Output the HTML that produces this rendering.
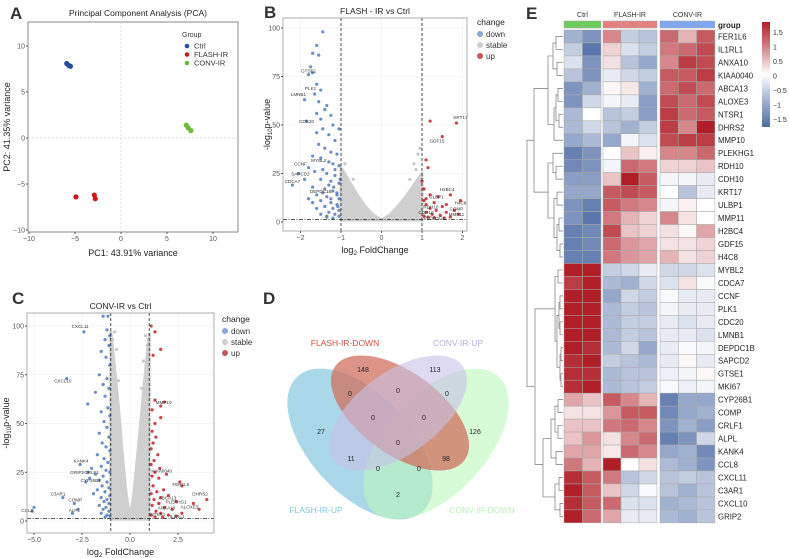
<!DOCTYPE html>
<html><head><meta charset="utf-8">
<style>
body{margin:0;background:#fff;}
svg{display:block;font-family:"Liberation Sans",Arial,sans-serif;}
</style></head>
<body>
<svg id="fig" width="789" height="558" viewBox="0 0 789 558" xmlns="http://www.w3.org/2000/svg">
<g id="pA"></g>
<g id="pB"></g>
<g id="pC"></g>
<g id="pD"></g>
<g id="pE"></g>
</svg>
<script>
// ---------- PCA data ----------
const pcaGroups = ["Ctrl","FLASH-IR","CONV-IR"];
const pcaColors = ["#274c9a","#d01818","#6ab83e"];
const pcaX = [[-5.9,-5.7,-5.5],[-4.9,-2.9,-2.8],[7.1,7.3,7.6]];
const pcaY = [[8.1,7.9,7.8],[-6.4,-6.2,-6.6],[1.4,1.1,0.8]];
const pcaTicks = [-10,-5,0,5,10];

// ---------- Volcano B data ----------
const bDownX = [-1.45,-1.6,-1.7,-1.55,-1.75,-1.8,-1.7,-1.6,-1.5,-1.65,-1.9,-1.55,-1.35,-1.4,-1.6,-1.25,-1.5,-1.2,-1.85,-1.45,-1.05,-1.6,-1.3,-1.15,-1.55,-1.4,-1.25,-1.1,-1.7,-1.5,-1.3,-1.2,-1.05,-1.8,-1.45,-1.65,-1.35,-1.15,-2.05,-1.9,-1.5,-1.25,-1.05,-2.2,-1.7,-1.4,-1.2,-1.1,-1.6,-1.35,-1.05,-1.8,-1.5,-1.25,-1.1,-1.4,-1.2,-1.05,-1.6,-1.3,-1.15,-1.05,-1.5,-1.35,-1.2,-1.1,-1.3,-1.02,-1.45,-1.7,-1.15,-1.25,-1.08,-1.35,-1.18];
const bDownY = [98,91,87,86,80,76,77,71,68,66,63,62,60,58,56,55,53,50,52,48,48,46,45,42,40,38,36,35,34,33,31,30,29,28,27,26,25,24,25,22,22,21,20,19,18,17,16,15,14,13,12,12,11,10,9,8,7,6,7,5,4,3,4,2.5,2,14,19,22,15,10,27,12,8,3,18];
const bUpX = [1.2,1.85,1.5,1.1,1.15,1.0,1.05,1.7,1.4,1.1,1.2,1.05,1.3,1.95,1.6,1.5,1.1,1.2,1.35,1.8,1.6,1.1,1.25,1.45,1.9,1.05,1.15,1.3,1.7,1.55];
const bUpY = [52,51,44,32,28,21,17,14,13,12,14,11,10,11,9,8,9,7,6,6,5,5,4,3.5,4,3,2.5,2.2,2.5,2];
const bStableEnvX = [-1,-0.8,-0.6,-0.4,-0.2,0,0.2,0.4,0.6,0.8,1];
const bStableEnvY = [28,21,14,8,3.5,1.2,3.5,8,13,19,25];
const bStableX = [0.95,0.8,0.9,-0.9,-0.7,0.7,-0.95,0.85];
const bStableY = [38,30,35,30,22,22,26,27];
const bLabels = ["GTSE1","PLK1","LMNB1","CDC20","CCNF","MYBL2","SAPCD2","CDCA7","DEPDC1B","KRT17","GDF15","H2BC4","ULBP1","H4C8","RDH10","COMP","CDH10","MMP11","PLEKHG1"];
const bLabX = [-1.8,-1.75,-2.05,-1.85,-2.0,-1.55,-2.0,-2.2,-1.5,1.95,1.37,1.62,1.36,1.95,1.22,1.85,1.1,1.85,1.3];
const bLabY = [77,68,65,51,29,31,24,20,15,53,41,16,12,9,7,6,4,3,1.2];

// ---------- Volcano C data ----------
const cDownX = [-2.4,-3.3,-1.15,-1.4,-1.2,-1.05,-1.3,-1.1,-1.5,-1.25,-1.05,-1.6,-1.2,-1.4,-1.1,-1.8,-1.3,-2.2,-1.15,-1.5,-1.05,-1.35,-1.2,-1.6,-1.1,-1.45,-1.25,-1.05,-1.7,-1.35,-1.15,-2.6,-1.5,-2.0,-1.25,-1.05,-2.2,-1.8,-1.4,-2.1,-1.6,-2.3,-1.2,-1.45,-1.1,-1.7,-1.3,-1.9,-1.05,-3.5,-1.5,-1.2,-1.35,-1.1,-2.9,-1.6,-1.25,-2.7,-5.0,-1.4,-1.1,-3.0,-5.1,-1.5,-1.2,-1.05,-1.3];
const cDownY = [97,73,105,105,98,95,93,90,87,84,80,75,73,70,68,66,64,60,58,56,54,51,48,45,43,40,38,36,34,32,30,29,28,27,26,25,25,24,23,22,21,20,20,18,17,16,15,14,13,12,12,11,10,9,9,8,7,6,7,6,5,4,5,4,3,2.5,2];
const cUpX = [1.1,1.3,1.6,1.2,1.3,1.8,1.6,1.15,1.6,1.3,1.15,1.35,1.2,1.1,1.45,1.25,1.1,1.55,1.3,1.9,1.15,1.5,2.6,2.7,1.2,1.75,1.4,1.1,2.0,1.6,1.25,2.4,4.0,3.3,1.5,1.15,1.8,2.2,3.6,2.7,1.35,1.6,2.0,1.1,1.3,2.4,1.7];
const cUpY = [100,97,88,85,62,61,59,57,53,50,46,43,40,37,34,31,29,27,25,24,23,22,20,18,18,16,15,14,13,12,11,10,11,9,9,8,7,6,6,4,5,4,3,3,2,2.5,2];
const cStableEnvX = [-1,-0.8,-0.6,-0.4,-0.2,0,0.2,0.4,0.6,0.8,1];
const cStableEnvY = [97,78,58,34,14,1,14,34,55,76,96];
const cStableX = [-0.8,-0.9,-0.7,0.8,0.9,0.7,-0.6,0.6];
const cStableY = [97,93,88,95,90,82,72,68];
const cLabels = ["CXCL11","CXCL10","MMP10","KANK4","GRIP2","CRLF1","CYP26B1","C3AR1","COMP","ALPL","CCL8","KIAA0040","FER1L6","DHRS2","ABCA13","PLEKHG1","ALOXE3","ANXA10","NTSR1","IL1RL1"];
const cLabX = [-2.6,-3.5,1.75,-2.55,-2.75,-2.0,-2.05,-3.75,-2.85,-2.9,-5.35,1.65,2.65,3.65,1.95,2.4,3.1,1.9,1.45,2.45];
const cLabY = [99,71,60,30,24,24,20,13,10,4.5,4.5,25,18,13,11,9,6.5,6,2.5,1.5];

// ---------- Venn data ----------
const vennSets = ["FLASH-IR-DOWN","CONV-IR-UP","FLASH-IR-UP","CONV-IR-DOWN"];
const vennCounts = ["148","113","0","0","0","0","0","27","126","0","11","98","0","0","2"];

// ---------- Heatmap data ----------
const hmGenes = ["FER1L6","IL1RL1","ANXA10","KIAA0040","ABCA13","ALOXE3","NTSR1","DHRS2","MMP10","PLEKHG1","RDH10","CDH10","KRT17","ULBP1","MMP11","H2BC4","GDF15","H4C8","MYBL2","CDCA7","CCNF","PLK1","CDC20","LMNB1","DEPDC1B","SAPCD2","GTSE1","MKI67","CYP26B1","COMP","CRLF1","ALPL","KANK4","CCL8","CXCL11","C3AR1","CXCL10","GRIP2"];
const hmCtrl = [[-0.8,-1.1],[-0.5,-1.4],[-0.3,-1.1],[-0.6,-1.1],[-1.1,-0.8],[-1.1,-0.4],[-0.7,0.0],[-0.7,-0.4],[-0.9,-0.7],[-1.3,-1.1],[-1.2,-1.1],[-1.0,-1.0],[-0.9,-0.9],[-1.1,-1.3],[-1.1,-1.4],[-1.3,-1.2],[-1.3,-1.2],[-1.3,-1.3],[1.5,1.5],[1.3,1.5],[1.5,1.5],[1.5,1.5],[1.5,1.5],[1.5,1.5],[1.5,1.4],[1.4,1.5],[1.4,1.4],[1.4,1.5],[0.6,0.4],[0.2,0.2],[0.4,0.4],[0.4,0.7],[0.6,0.6],[0.9,0.5],[1.4,1.1],[1.5,1.1],[1.4,1.1],[1.5,1.0]];
const hmFlash = [[0.8,-0.5,-0.6],[0.3,-0.3,-0.5],[0.2,-0.6,-0.9],[-0.2,-0.4,-0.5],[0.05,0.15,-0.8],[-0.1,-0.2,-1.0],[-0.6,-0.5,-1.0],[-0.6,-0.8,-0.5],[-0.9,-0.1,-0.3],[0.0,0.4,0.1],[-0.1,1.0,0.9],[0.4,1.5,1.1],[1.1,1.2,1.1],[1.1,0.9,0.8],[0.9,0.5,0.3],[1.2,0.4,0.3],[1.0,0.7,0.6],[0.9,0.7,0.6],[-0.5,-0.4,-0.2],[-0.7,-0.8,-0.4],[-0.9,-0.4,-0.5],[-0.7,-0.5,-0.6],[-0.7,-0.5,-0.5],[-0.7,-0.5,-0.6],[-0.7,-0.4,-0.9],[-0.5,-0.6,-0.7],[-0.7,-0.6,-0.6],[-0.7,-0.6,-0.5],[1.1,0.8,0.5],[0.7,1.1,1.1],[0.9,1.0,0.8],[0.2,0.8,1.0],[0.15,1.0,0.8],[1.5,0.0,0.2],[0.9,-0.6,-0.4],[0.4,-0.4,-0.05],[1.0,-0.3,-0.3],[0.6,-0.2,-0.2]];
const hmConv = [[1.0,0.5,1.1],[0.9,1.0,1.2],[0.8,1.3,1.2],[1.1,1.1,1.3],[1.0,1.2,1.0],[1.2,1.0,1.2],[1.3,1.0,1.1],[1.3,0.8,1.5],[1.2,1.3,1.3],[0.8,0.8,1.0],[0.3,0.3,0.4],[-0.1,-0.1,-0.2],[0.0,-0.6,-0.2],[-0.1,0.1,0.0],[0.8,0.2,0.0],[0.2,0.05,0.6],[0.2,0.2,0.3],[0.5,0.2,0.3],[-0.4,-0.4,-0.3],[-0.3,0.2,-0.05],[-0.05,-0.2,-0.2],[-0.1,-0.2,-0.2],[-0.2,-0.3,-0.2],[-0.2,-0.2,-0.3],[-0.2,-0.05,-0.1],[-0.2,0.05,-0.2],[-0.15,-0.1,0.05],[-0.05,-0.15,-0.1],[-1.3,-0.9,-0.9],[-1.2,-0.9,-0.8],[-1.1,-0.8,-1.0],[-1.3,-1.1,-0.4],[-0.9,-0.8,-1.2],[-0.7,-0.8,-1.1],[-0.6,-0.5,-0.6],[-0.6,-0.8,-0.6],[-0.8,-0.7,-0.6],[-0.7,-0.8,-0.6]];
const hmLegendTicks = [1.5,1,0.5,0,-0.5,-1,-1.5];

const NS="http://www.w3.org/2000/svg";
function mk(parent,tag,attrs,text){const e=document.createElementNS(NS,tag);for(const k in attrs)e.setAttribute(k,attrs[k]);if(text!==undefined)e.textContent=text;parent.appendChild(e);return e;}
function lin(d0,d1,r0,r1){return v=>r0+(v-d0)*(r1-r0)/(d1-d0);}

// ---------- Panel A ----------
(function(){
const g=document.getElementById('pA');
const sx=lin(-10,10,29,213), sy=lin(10,-10,46,230);
let t=mk(g,'text',{x:10,y:19,'font-size':17,'font-weight':'bold',fill:'#333'},'A');

t=mk(g,'text',{x:138,y:16,'font-size':8.5,'text-anchor':'middle',fill:'#222'},'Principal Component Analysis (PCA)');

let r=mk(g,'rect',{x:28,y:22,width:210,height:210,fill:'none',stroke:'#888','stroke-width':1});

let l=mk(g,'line',{x1:sx(0),x2:sx(0),y1:22,y2:232,stroke:'#ddd','stroke-dasharray':'2,2'});

l=mk(g,'line',{x1:28,x2:238,y1:sy(0),y2:sy(0),stroke:'#ddd','stroke-dasharray':'2,2'});

pcaTicks.forEach(v=>{
 let a=mk(g,'text',{x:sx(v),y:241,'font-size':7,'text-anchor':'middle',fill:'#555'},v<0?'−'+(-v):String(v));
 
 a=mk(g,'text',{x:25,y:sy(v)+2.5,'font-size':7,'text-anchor':'end',fill:'#555'},v<0?'−'+(-v):String(v));
 
 mk(g,'line',{x1:sx(v),x2:sx(v),y1:232,y2:234,stroke:'#555'});
 mk(g,'line',{x1:26,x2:28,y1:sy(v),y2:sy(v),stroke:'#555'});
});
t=mk(g,'text',{x:133,y:256,'font-size':9,'text-anchor':'middle',fill:'#222'},'PC1: 43.91% variance');

t=mk(g,'text',{x:0,y:0,'font-size':9,'text-anchor':'middle',fill:'#222',transform:'translate(10,127) rotate(-90)'},'PC2: 41.35% variance');

pcaGroups.forEach((gr,i)=>{
 pcaX[i].forEach((x,j)=>{
  const c=mk(g,'circle',{cx:sx(x),cy:sy(pcaY[i][j]),r:2.6,fill:pcaColors[i]});
  
  
 });
 const c=mk(g,'circle',{cx:187,cy:46+i*8.5,r:2.3,fill:pcaColors[i]});
 
 const tt=mk(g,'text',{x:194,y:48.5+i*8.5,'font-size':7.5,fill:'#333'},gr);
 
});
t=mk(g,'text',{x:182,y:37,'font-size':7,fill:'#333'},'Group');

})();

// ---------- Volcano builder ----------
function volcano(g,cfg){
 const sx=lin(cfg.xd[0],cfg.xd[1],cfg.xr[0],cfg.xr[1]), sy=lin(0,100,cfg.y0,cfg.y100);
 const P=cfg.box;
 let t=mk(g,'text',{x:cfg.letter[0],y:cfg.letter[1],'font-size':17,'font-weight':'bold',fill:'#333'},cfg.letterText);
 
 t=mk(g,'text',{x:(P[0]+P[2])/2,y:P[1]-4,'font-size':8.5,'text-anchor':'middle',fill:'#222'},cfg.title);
 
 cfg.xticks.forEach(v=>{mk(g,'line',{x1:sx(v),x2:sx(v),y1:P[1],y2:P[3],stroke:'#eee','stroke-width':0.6});});
 cfg.yticks.forEach(v=>{mk(g,'line',{x1:P[0],x2:P[2],y1:sy(v),y2:sy(v),stroke:'#eee','stroke-width':0.6});});
 let pts=cfg.envX.map((x,i)=>sx(x)+','+sy(cfg.envY[i])).join(' ');
 pts+=' '+sx(cfg.envX[cfg.envX.length-1])+','+sy(1)+' '+sx(cfg.envX[0])+','+sy(1);
 let poly=mk(g,'polygon',{points:pts,fill:'#cfcfcf',stroke:'#cfcfcf','stroke-width':3,'stroke-linejoin':'round'});
 
 cfg.stX.forEach((x,i)=>{const c=mk(g,'circle',{cx:sx(x),cy:sy(cfg.stY[i]),r:1.6,fill:'#c9c9c9'});
  });
 cfg.dX.forEach((x,i)=>{const c=mk(g,'circle',{cx:sx(x),cy:sy(cfg.dY[i]),r:1.6,fill:'#5e82bd','fill-opacity':0.9});
  });
 cfg.uX.forEach((x,i)=>{const c=mk(g,'circle',{cx:sx(x),cy:sy(cfg.uY[i]),r:1.6,fill:'#c0303a','fill-opacity':0.9});
  });
 [-1,1].forEach(v=>{const l=mk(g,'line',{x1:sx(v),x2:sx(v),y1:P[1],y2:P[3],stroke:'#222','stroke-width':0.8,'stroke-dasharray':'3,2'});
  });
 let l=mk(g,'line',{x1:P[0],x2:P[2],y1:sy(1.3),y2:sy(1.3),stroke:'#222','stroke-width':0.8,'stroke-dasharray':'4,1.5,1,1.5'});
 
 cfg.labs.forEach((s,i)=>{const a=mk(g,'text',{x:sx(cfg.labX[i]),y:sy(cfg.labY[i]),'font-size':4.6,'text-anchor':'middle',fill:'#333'},s);
  });
 let r=mk(g,'rect',{x:P[0],y:P[1],width:P[2]-P[0],height:P[3]-P[1],fill:'none',stroke:'#999','stroke-width':0.8});
 
 cfg.xticks.forEach(v=>{mk(g,'line',{x1:sx(v),x2:sx(v),y1:P[3],y2:P[3]+2,stroke:'#555'});
  const a=mk(g,'text',{x:sx(v),y:P[3]+9,'font-size':7,'text-anchor':'middle',fill:'#555'},cfg.xfmt(v));
  });
 cfg.yticks.forEach(v=>{mk(g,'line',{x1:P[0]-2,x2:P[0],y1:sy(v),y2:sy(v),stroke:'#555'});
  const a=mk(g,'text',{x:P[0]-3,y:sy(v)+2.5,'font-size':7,'text-anchor':'end',fill:'#555'},String(v));
  });
 t=mk(g,'text',{x:(P[0]+P[2])/2,y:P[3]+22,'font-size':9,'text-anchor':'middle',fill:'#222'});
 t.innerHTML='log<tspan font-size="6.5" dy="2">2</tspan><tspan dy="-2"> FoldChange</tspan>';
 
 t=mk(g,'text',{x:0,y:0,'font-size':9,'text-anchor':'middle',fill:'#222',transform:'translate('+cfg.ylabX+','+((P[1]+P[3])/2)+') rotate(-90)'});
 t.innerHTML='-log<tspan font-size="6" dy="2">10</tspan><tspan dy="-2">p-value</tspan>';
 
 const L=cfg.leg;
 t=mk(g,'text',{x:L[0],y:L[1],'font-size':8.5,fill:'#222'},'change');
 
 [['down','#8aa6d4'],['stable','#cfcfcf'],['up','#c5565e']].forEach((e,i)=>{
  const c=mk(g,'circle',{cx:L[0]+3,cy:L[1]+9+i*11,r:3,fill:e[1]});
  
  const a=mk(g,'text',{x:L[0]+9,y:L[1]+12+i*11,'font-size':8,fill:'#333'},e[0]);
  
 });
}
volcano(document.getElementById('pB'),{xd:[-1,1],xr:[341,422],y0:222,y100:28,box:[283,18,467,231],
 letter:[264,18],letterText:'B',title:'FLASH - IR vs Ctrl',xticks:[-2,-1,0,1,2],yticks:[0,25,50,75,100],
 xfmt:v=>v<0?'−'+(-v):String(v),envX:bStableEnvX,envY:bStableEnvY,stX:bStableX,stY:bStableY,
 dX:bDownX,dY:bDownY,uX:bUpX,uY:bUpY,labs:bLabels,labX:bLabX,labY:bLabY,ylabX:270,leg:[477,25]});
volcano(document.getElementById('pC'),{xd:[-5,2.5],xr:[34,178],y0:521,y100:326,box:[27,313,214,533],
 letter:[12,304],letterText:'C',title:'CONV-IR vs Ctrl',xticks:[-5,-2.5,0,2.5],yticks:[0,25,50,75,100],
 xfmt:v=>(v<0?'−':'')+Math.abs(v).toFixed(1),envX:cStableEnvX,envY:cStableEnvY,stX:cStableX,stY:cStableY,
 dX:cDownX,dY:cDownY,uX:cUpX,uY:cUpY,labs:cLabels,labX:cLabX,labY:cLabY,ylabX:9,leg:[222,322]});

// ---------- Panel D Venn ----------
(function(){
const g=document.getElementById('pD');
let t=mk(g,'text',{x:263,y:304,'font-size':17,'font-weight':'bold',fill:'#333'},'D');

const ell=[
 {cx:360,cy:444,rx:92,ry:50,rot:47,fill:'#7cc3dc',op:0.65,name:'venn-flash-up'},
 {cx:436,cy:444,rx:92,ry:50,rot:-47,fill:'#bdf7bd',op:0.6,name:'venn-conv-down'},
 {cx:400,cy:413,rx:80,ry:41,rot:36,fill:'#d0705f',op:0.75,name:'venn-flash-down'},
 {cx:398,cy:413,rx:80,ry:41,rot:-36,fill:'#c8c2e8',op:0.6,name:'venn-conv-up'}];
ell.forEach(e=>{const el=mk(g,'ellipse',{cx:e.cx,cy:e.cy,rx:e.rx,ry:e.ry,fill:e.fill,'fill-opacity':e.op,transform:'rotate('+e.rot+' '+e.cx+' '+e.cy+')'});
 });
const setPos=[[345,346,'#d4523e'],[458,346,'#b5aedb'],[316,513,'#7ec6df'],[482,513,'#b9f3b9']];
vennSets.forEach((s,i)=>{const a=mk(g,'text',{x:setPos[i][0],y:setPos[i][1],'font-size':8.5,'text-anchor':'middle',fill:setPos[i][2]},s);
 });
const cp=[[363,372],[435,372],[350,396],[398,393],[447,396],[373,420],[424,420],[321,434],[475,434],[398,445],[351,461],[446,461],[378,471],[419,471],[398,497]];
vennCounts.forEach((c,i)=>{const a=mk(g,'text',{x:cp[i][0],y:cp[i][1],'font-size':7,'text-anchor':'middle',fill:'#222'},c);
 });
})();

// ---------- Panel E Heatmap ----------
(function(){
const g=document.getElementById('pE');
let t=mk(g,'text',{x:526,y:19,'font-size':17,'font-weight':'bold',fill:'#333'},'E');

function col(v){v=Math.max(-1.5,Math.min(1.5,v));const f=Math.abs(v)/1.5;
 const end=v>=0?[176,30,40]:[79,108,166];
 const c=[255,255,255].map((w,i)=>Math.round(w+(end[i]-w)*f));return 'rgb('+c.join(',')+')';}
const top=30,rh=12.97;
const groups=[{x:564,cw:18.5,n:2,data:hmCtrl,name:'Ctrl',bar:'#6ccc5a'},{x:603,cw:18,n:3,data:hmFlash,name:'FLASH-IR',bar:'#e58080'},{x:660,cw:18.3,n:3,data:hmConv,name:'CONV-IR',bar:'#7fa6ef'}];
groups.forEach(G=>{
 const w=G.n*G.cw;
 let a=mk(g,'text',{x:G.x+w/2,y:17,'font-size':7,'text-anchor':'middle',fill:'#333'},G.name);
 
 hmGenes.forEach((gene,r)=>{
  G.data[r].forEach((v,c)=>{
   const rc=mk(g,'rect',{x:G.x+c*G.cw,y:top+r*rh,width:G.cw,height:rh,fill:col(v),stroke:'#a8a8a8','stroke-width':0.5});
   
  });
 });
 for(let c=0;c<G.n;c++){const b=mk(g,'rect',{x:G.x+c*G.cw,y:21,width:G.cw,height:7,fill:G.bar,stroke:'#a8a8a8','stroke-width':0.5});
  }
});
hmGenes.forEach((gene,r)=>{const a=mk(g,'text',{x:718,y:top+r*rh+rh/2+3,'font-size':7.8,fill:'#222'},gene);
 });
t=mk(g,'text',{x:718,y:28,'font-size':8,'font-weight':'bold',fill:'#222'},'group');

const ly=lin(1.5,-1.5,32,119);
const defs=mk(g,'defs',{});const lg=mk(defs,'linearGradient',{id:'hg',x1:0,y1:0,x2:0,y2:1});
[1.6,0.8,0,-0.8,-1.6].forEach((v,i)=>mk(lg,'stop',{offset:(i*25)+'%','stop-color':col(v)}));
let rb=mk(g,'rect',{x:762,y:22,width:8,height:105,fill:'url(#hg)'});

hmLegendTicks.forEach(v=>{const a=mk(g,'text',{x:773,y:ly(v)+3,'font-size':7,fill:'#333'},v<0?'−'+(-v):String(v));
 });
const yc=i=>top+i*rh+rh/2;
const dg=mk(g,'g',{stroke:'#777','stroke-width':0.7,fill:'none'});

function U(y1,y2,x,xl1,xl2){mk(dg,'path',{d:'M'+xl1+','+y1+'H'+x+'V'+y2+'H'+xl2});}
const L=563;
U(yc(0),yc(1),556,L,L);U(yc(2),yc(3),557,L,L);U(yc(0.5),yc(2.5),553,556,557);
U(yc(4),yc(5),558,L,L);U(yc(6),yc(7),559,L,L);U(yc(4.5),yc(6.5),556,558,559);U(yc(8),yc(5.5),554,L,556);
U(yc(1.5),yc(6.8),548,553,554);
U(yc(10),yc(11),556,L,L);U(yc(12),yc(13),557,L,L);U(yc(14),yc(15),559,L,L);U(yc(16),yc(17),560,L,L);
U(yc(14.5),yc(16.5),557,559,560);U(yc(12.5),yc(15.5),554,557,557);U(yc(9),yc(10.5),553,L,556);U(yc(9.75),yc(14),548,553,554);
U(yc(4),yc(12),534,548,548);
U(yc(18),yc(19),558,L,L);U(yc(20),yc(21),560,L,L);U(yc(22),yc(23),560,L,L);U(yc(20.5),yc(22.5),559,560,560);
U(yc(24),yc(25),561,L,L);U(yc(26),yc(27),561,L,L);U(yc(24.5),yc(26.5),560,561,561);U(yc(21.5),yc(25.5),557,559,560);U(yc(18.5),yc(23.5),555,558,557);
U(yc(28),yc(29),558,L,L);U(yc(30),yc(31),558,L,L);U(yc(28.5),yc(30.5),555,558,558);U(yc(32),yc(33),556,L,L);U(yc(29.5),yc(32.5),551,555,556);
U(yc(34),yc(35),559,L,L);U(yc(36),yc(37),560,L,L);U(yc(34.5),yc(36.5),555,559,560);U(yc(31),yc(35.5),543,551,555);
U(yc(21),yc(33),535,555,543);
U(yc(8),yc(27),527,534,535);
})();
</script>
</body></html>
